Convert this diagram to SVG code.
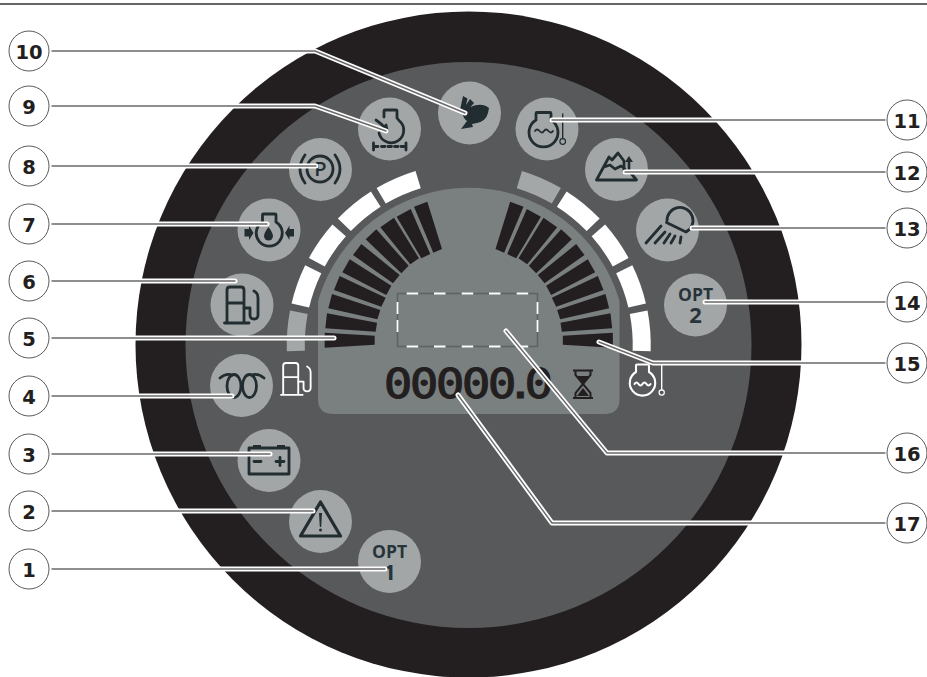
<svg xmlns="http://www.w3.org/2000/svg" xmlns:xlink="http://www.w3.org/1999/xlink" width="927" height="677" viewBox="0 0 927 677">
<style>
.disc{fill:#a2a6a7}
.ic{fill:none;stroke:#222d31;stroke-width:2.800;stroke-linecap:round;stroke-linejoin:round}
.icf{fill:#222d31;stroke:none}
.wh{fill:none;stroke:#fff;stroke-width:2.100;stroke-linecap:round;stroke-linejoin:round}
.seg{fill:none;stroke-width:18}
.w{stroke:#fff}.g{stroke:#a3a7a8}
.halo{fill:none;stroke:#fff;stroke-width:5;stroke-linecap:round;stroke-linejoin:round}
.core{fill:none;stroke:#6a6a6a;stroke-width:1.400;stroke-linecap:round;stroke-linejoin:round}
.cc{fill:#fff;stroke:#5a5a5a;stroke-width:1}
.cn{font-family:"DejaVu Sans",sans-serif;font-weight:700;font-size:19.500px;fill:#231f20;text-anchor:middle}
.opt{font-family:"Open Sans",sans-serif;font-weight:700;fill:#27343a;text-anchor:middle}
.bar{fill:#231f20}
</style>
<defs>
<g id="bars" transform="translate(318 195) scale(.33333)">
<polygon class="bar" points="20,413 20,458 170,449 170,422"/>
<polygon class="bar" points="27,355 22,400 173,410 177,383"/>
<polygon class="bar" points="42,297 31,340 178,373 187,345"/>
<polygon class="bar" points="65,243 48,285 190,335 203,308"/>
<polygon class="bar" points="95,193 73,232 205,300 220,272"/>
<polygon class="bar" points="130,147 105,180 225,265 245,240"/>
<polygon class="bar" points="175,103 143,133 250,235 272,212"/>
<polygon class="bar" points="228,68 187,97 277,208 303,190"/>
<polygon class="bar" points="278,42 236,65 310,190 337,177"/>
<polygon class="bar" points="328,20 288,35 346,173 372,162"/>
</g>
<g id="pump">
<path d="M227 322V290Q227 287 230 287H241Q244 287 244 290V322M227 303H244M224.500 323H249"/>
<path d="M244 308H250V315Q250 319 254 319Q258 319 258 315V298Q258 293 254 291"/>
</g>
</defs>
<rect width="927" height="677" fill="#fff"/>
<rect x="0" y="3" width="927" height="2" fill="#666"/>
<circle id="bezel" cx="468.500" cy="344.500" r="333" fill="#231f20"/>
<circle id="face" cx="468.500" cy="345" r="283" fill="#58595b"/>
<path id="display" d="M318 301A157 157 0 0 1 619.500 301V399Q619.500 414 604.500 414H333Q318 414 318 399Z" fill="#7a7f80"/>
<g id="fuel-gauge-band">
<path class="seg g" d="M295.850 351A173 173 0 0 1 298.850 312.300"/>
<path class="seg w" d="M300.350 305.500A173 173 0 0 1 313.250 269.200"/>
<path class="seg w" d="M316.850 262.200A173 173 0 0 1 339.150 230.400"/>
<path class="seg w" d="M344.350 224.800A173 173 0 0 1 375.750 199.100"/>
<path class="seg w" d="M381.150 195.800A173 173 0 0 1 418.150 179.600"/>
</g>
<g id="temp-gauge-band">
<path class="seg w" d="M641.650 351A173 173 0 0 0 638.650 312.300"/>
<path class="seg w" d="M637.150 305.500A173 173 0 0 0 624.250 269.200"/>
<path class="seg w" d="M620.650 262.200A173 173 0 0 0 598.350 230.400"/>
<path class="seg w" d="M593.150 224.800A173 173 0 0 0 561.750 199.100"/>
<path class="seg g" d="M556.350 195.800A173 173 0 0 0 519.350 179.600"/>
</g>
<use id="fuel-bars" xlink:href="#bars" href="#bars"/>
<use id="temp-bars" xlink:href="#bars" href="#bars" transform="matrix(-1 0 0 1 937.500 0)"/>
<g id="message-area">
<rect x="397.500" y="293.500" width="140" height="53" fill="none" stroke="#5f6364" stroke-width="1.600"/>
<path fill="none" stroke="#fff" stroke-width="1.800" d="M406.700 293.500h11.500M434 293.500h11.500M461.700 293.500h11.500M489 293.500h11.500M516.700 293.500h11.500M406.700 346.500h11.500M434 346.500h11.500M461.700 346.500h11.500M489 346.500h11.500M516.700 346.500h11.500M397.500 302v12M397.500 320v12M537.500 302v12M537.500 320v12"/>
</g>
<g id="fuel-white-icon" class="wh" transform="translate(82.300 109) scale(.885)"><use xlink:href="#pump" href="#pump"/></g>
<g id="temp-white-icon" class="wh">
<path d="M636 372V365.500Q636 364.500 637 364.500H648Q649 364.500 649 365.500V372A12.700 12.700 0 1 1 636 372Z"/>
<path d="M634.500 384Q636.500 381 638.500 384T642.500 384T646.500 384T650.500 384"/>
<path d="M661.700 365V390" style="stroke-width:1.400"/><circle cx="661.700" cy="392.500" r="2.600" style="stroke-width:1.200"/>
</g>
<g transform="scale(1.15 1)"><text id="hour-meter" y="398.500" x="333.700 356.300 378.900 401.500 424.100 440.100 456" font-family="DejaVu Sans Mono,monospace" font-weight="400" font-size="41.500px" fill="#231f20" stroke="#231f20" stroke-width="1">00000.0</text></g>
<g id="hourglass">
<path fill="none" stroke="#231f20" stroke-width="2" d="M573 370.500H593M573 398H593M575.500 370.500V375L583 384L575.500 393V398M590.500 370.500V375L583 384L590.500 393V398"/>
<path fill="#231f20" d="M577 376H589L583 383ZM583 388L589 396H577Z"/>
</g>

<g id="icon-10-rabbit"><circle class="disc" cx="469.500" cy="113" r="31.500"/>
<path class="icf" d="M460 110L463 96L467.500 98.500L466 105L470 99L474 103L470.500 107Q479 103 486 106L489 108L488 113Q486 121 477 123L472 124L473 127L461 129L464 125L467 121Q463 118 463 114Z"/></g>
<g id="icon-9-hydraulic"><circle class="disc" cx="389.500" cy="129" r="31.500"/>
<path class="ic" d="M379 133A12.500 12.500 0 1 0 399 120.500L397 118V111Q397 110 396 110H385Q384 110 384 111V117"/>
<path class="ic" d="M376 120Q382 124 387 130M382 130.500L387 130L386 125"/>
<path class="ic" d="M374 146.500h4M381.500 146.500h3.500M388 146.500h3.500M394.500 146.500h3.500M401 146.500h4M373.500 143v7M406 143v7"/></g>
<g id="icon-8-park-brake"><circle class="disc" cx="320.500" cy="169.500" r="31.500"/>
<circle class="ic" cx="320" cy="169" r="13"/>
<path class="ic" d="M305 155Q295 169 305 183M335 155Q345 169 335 183"/>
<text x="320.500" y="176" font-family="Open Sans,sans-serif" font-weight="600" font-size="20px" fill="#222d31" text-anchor="middle">P</text></g>
<g id="icon-7-oil"><circle class="disc" cx="269" cy="230" r="31.500"/>
<path class="ic" d="M262.500 222V215Q262.500 214 263.500 214H275Q276 214 276 215V222A13 13 0 1 1 262.500 222Z"/>
<path class="icf" d="M268.500 227Q273 233 273 236A4.500 4.500 0 0 1 264 236Q264 233 268.500 227Z"/>
<path class="icf" d="M244.500 229H249V225.500L253.500 233L249 240V236.500H244.500ZM294 229H289.500V225.500L285 233L289.500 240V236.500H294Z"/></g>
<g id="icon-6-fuel"><circle class="disc" cx="242" cy="305" r="31.500"/><g class="ic"><use xlink:href="#pump" href="#pump"/></g></g>
<g id="icon-4-glow"><circle class="disc" cx="241.500" cy="385.500" r="31.500"/>
<path class="ic" d="M220 378Q226 373 232 375M264 378Q258 373 252 375"/>
<ellipse class="ic" cx="234" cy="386" rx="7" ry="11.500"/><ellipse class="ic" cx="249.500" cy="386" rx="7" ry="11.500"/></g>
<g id="icon-3-battery"><circle class="disc" cx="269" cy="460.500" r="31.500"/>
<rect class="ic" x="249" y="448" width="40" height="26"/>
<path class="icf" d="M253 445h8v3h-8zM277 445h8v3h-8z"/>
<path class="ic" d="M254 461.500h7M276 461.500h8M280 457.500v8"/></g>
<g id="icon-2-warning"><circle class="disc" cx="320.500" cy="521.500" r="31.500"/>
<path class="ic" style="stroke-width:3.200" d="M320.500 502L340.500 536H300.500Z"/>
<path class="icf" d="M319 513H322L321.200 527H319.800Z"/><circle class="icf" cx="320.500" cy="530" r="1.500"/></g>
<g id="icon-1-opt"><circle class="disc" cx="389.500" cy="561.500" r="31.500"/>
<text class="opt" x="389.500" y="557.500" font-size="17.500px">OPT</text><text class="opt" x="389.500" y="580" font-size="22px">1</text></g>
<g id="icon-11-coolant"><circle class="disc" cx="547" cy="129" r="31.500"/>
<path class="ic" d="M536 120V113.500Q536 112.500 537 112.500H550Q551 112.500 551 113.500V120A14.500 14.500 0 1 1 536 120Z"/>
<path class="ic" style="stroke-width:1.800" d="M535 131Q537 128 539.500 131T544 131T548.500 131T553 131"/>
<path class="ic" style="stroke-width:1.400" d="M562.700 114V138.500"/><circle class="ic" style="stroke-width:1.200" cx="562.700" cy="141.500" r="2.800"/></g>
<g id="icon-12-altitude"><circle class="disc" cx="616.500" cy="169.500" r="31.500"/>
<path class="ic" d="M596.500 180L609 157L612 160L618 153L624 161V172M636.500 180H596.500M636.500 180L630 172M604 167L610 165L615 169L621 166L625 169"/>
<path class="icf" d="M629 156L633 162H630.300V173H627.700V162H625Z"/></g>
<g id="icon-13-lamp"><circle class="disc" cx="667.500" cy="230" r="31.500"/>
<path class="ic" d="M667 221A13 13 0 1 1 686 232L666.500 222.500"/>
<path class="ic" d="M661 226L646 243M665 232L655 243M670 234L664 243M675 236L671 243M681 237L680 243"/></g>
<g id="icon-14-opt"><circle class="disc" cx="695.500" cy="305" r="31.500"/>
<text class="opt" x="695.500" y="300.500" font-size="17.500px">OPT</text><text class="opt" x="695.500" y="322.500" font-size="22px">2</text></g>

<g id="connectors">
<g class="halo">
<path d="M52 51H315L465 113"/><path d="M52 106H315L386 131"/><path d="M52 166H316"/><path d="M52 224H267"/><path d="M52 281H235"/><path d="M52 338H334"/><path d="M52 396H232"/><path d="M52 454H270"/><path d="M52 511H313"/><path d="M52 569H385"/>
<path d="M885 120H552"/><path d="M885 172H625"/><path d="M885 228H692"/><path d="M885 302H705"/><path d="M885 363H653L599 342"/><path d="M885 453H607L506 331"/><path d="M885 523H552L458 395"/>
</g>
<g class="core">
<path d="M52 51H315L465 113"/><path d="M52 106H315L386 131"/><path d="M52 166H316"/><path d="M52 224H267"/><path d="M52 281H235"/><path d="M52 338H334"/><path d="M52 396H232"/><path d="M52 454H270"/><path d="M52 511H313"/><path d="M52 569H385"/>
<path d="M885 120H552"/><path d="M885 172H625"/><path d="M885 228H692"/><path d="M885 302H705"/><path d="M885 363H653L599 342"/><path d="M885 453H607L506 331"/><path d="M885 523H552L458 395"/>
</g>
</g>

<g id="callout-10"><circle class="cc" cx="29" cy="51" r="20"/><text class="cn" x="29" y="58.500">10</text></g>
<g id="callout-9"><circle class="cc" cx="29" cy="106" r="20"/><text class="cn" x="29" y="113.500">9</text></g>
<g id="callout-8"><circle class="cc" cx="29" cy="166" r="20"/><text class="cn" x="29" y="173.500">8</text></g>
<g id="callout-7"><circle class="cc" cx="29" cy="224" r="20"/><text class="cn" x="29" y="231.500">7</text></g>
<g id="callout-6"><circle class="cc" cx="29" cy="281" r="20"/><text class="cn" x="29" y="288.500">6</text></g>
<g id="callout-5"><circle class="cc" cx="29" cy="338" r="20"/><text class="cn" x="29" y="345.500">5</text></g>
<g id="callout-4"><circle class="cc" cx="29" cy="396" r="20"/><text class="cn" x="29" y="403.500">4</text></g>
<g id="callout-3"><circle class="cc" cx="29" cy="454" r="20"/><text class="cn" x="29" y="461.500">3</text></g>
<g id="callout-2"><circle class="cc" cx="29" cy="511" r="20"/><text class="cn" x="29" y="518.500">2</text></g>
<g id="callout-1"><circle class="cc" cx="29" cy="569" r="20"/><text class="cn" x="29" y="576.500">1</text></g>
<g id="callout-11"><circle class="cc" cx="907" cy="120" r="20"/><text class="cn" x="907" y="127.500">11</text></g>
<g id="callout-12"><circle class="cc" cx="907" cy="172" r="20"/><text class="cn" x="907" y="179.500">12</text></g>
<g id="callout-13"><circle class="cc" cx="907" cy="228" r="20"/><text class="cn" x="907" y="235.500">13</text></g>
<g id="callout-14"><circle class="cc" cx="907" cy="302" r="20"/><text class="cn" x="907" y="309.500">14</text></g>
<g id="callout-15"><circle class="cc" cx="907" cy="363" r="20"/><text class="cn" x="907" y="370.500">15</text></g>
<g id="callout-16"><circle class="cc" cx="907" cy="453" r="20"/><text class="cn" x="907" y="460.500">16</text></g>
<g id="callout-17"><circle class="cc" cx="907" cy="523" r="20"/><text class="cn" x="907" y="530.500">17</text></g>
</svg>
